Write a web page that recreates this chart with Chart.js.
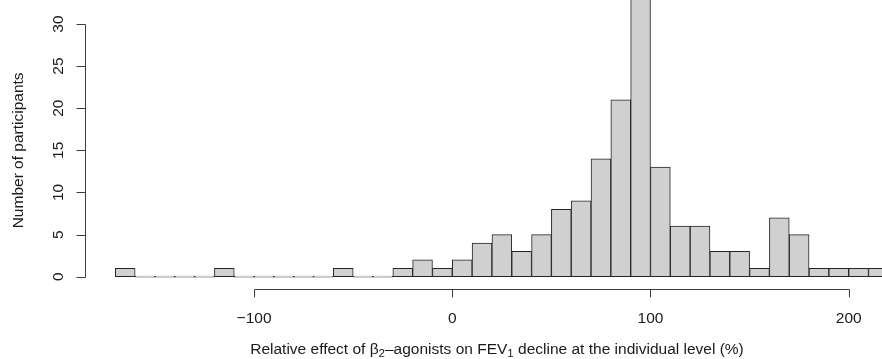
<!DOCTYPE html>
<html>
<head>
<meta charset="utf-8">
<script src="https://cdn.jsdelivr.net/npm/chart.js@4.4.1/dist/chart.umd.min.js"></script>
<style>
  html, body { margin: 0; padding: 0; background: #fff; }
  #wrap { width: 882px; height: 359px; position: relative; }
</style>
</head>
<body>
<div id="wrap"><canvas id="hist"></canvas></div>
<script>
// histogram bins (left edge, width 10) and participant counts
const BIN_STARTS = [
  -170, -160, -150, -140, -130, -120, -110, -100, -90, -80,
  -70, -60, -50, -40, -30, -20, -10, 0, 10, 20,
  30, 40, 50, 60, 70, 80, 90, 100, 110, 120,
  130, 140, 150, 160, 170, 180, 190, 200, 210,
];
const COUNTS = [
  1, 0, 0, 0, 0, 1, 0, 0, 0, 0,
  0, 1, 0, 0, 1, 2, 1, 2, 4, 5,
  3, 5, 8, 9, 14, 21, 34, 13, 6, 6,
  3, 3, 1, 7, 5, 1, 1, 1, 1,
];
const BIN_WIDTH = 10;
const X_TICKS = [-100, 0, 100, 200];
const Y_TICKS = [0, 5, 10, 15, 20, 25, 30];
const Y_TITLE = "Number of participants";
// x title pieces: [text, isSubscript]
const X_TITLE = [
  ["Relative effect of ", false],
  ["\u03b2", false],
  ["2", true],
  ["\u2013agonists on FEV", false],
  ["1", true],
  [" decline at the individual level (%)", false],
];

const FONT = '"Liberation Sans", Arial, Helvetica, sans-serif';
const SIZE = 15.5;
const INK = "#1a1a1a";
const AXIS = "#3c3c3c";

const points = BIN_STARTS.map((start, i) => ({ x: start + BIN_WIDTH / 2, y: COUNTS[i] }));

const rAxes = {
  id: "rAxes",
  afterDraw(chart) {
    const ctx = chart.ctx;
    const xs = chart.scales.x;
    const ys = chart.scales.y;
    const area = chart.chartArea;
    ctx.save();
    ctx.strokeStyle = AXIS;
    ctx.lineWidth = 1;
    ctx.fillStyle = INK;

    // y axis
    const ax = Math.round(area.left) + 0.5;
    const y0 = ys.getPixelForValue(Y_TICKS[0]);
    const y1 = ys.getPixelForValue(Y_TICKS[Y_TICKS.length - 1]);
    ctx.beginPath();
    ctx.moveTo(ax, Math.round(y0) + 0.5);
    ctx.lineTo(ax, Math.round(y1) + 0.5);
    Y_TICKS.forEach((v) => {
      const py = Math.round(ys.getPixelForValue(v)) + 0.5;
      ctx.moveTo(ax, py);
      ctx.lineTo(ax - 9, py);
    });
    ctx.stroke();

    ctx.font = `${SIZE}px ${FONT}`;
    ctx.textAlign = "center";
    ctx.textBaseline = "alphabetic";
    Y_TICKS.forEach((v) => {
      ctx.save();
      ctx.translate(ax - 23, ys.getPixelForValue(v));
      ctx.rotate(-Math.PI / 2);
      ctx.fillText(String(v), 0, 0);
      ctx.restore();
    });
    ctx.save();
    ctx.translate(23, (y0 + y1) / 2);
    ctx.rotate(-Math.PI / 2);
    ctx.fillText(Y_TITLE, 0, 0);
    ctx.restore();

    // x axis
    const ay = Math.round(area.bottom) + 0.5;
    ctx.beginPath();
    ctx.moveTo(Math.round(xs.getPixelForValue(X_TICKS[0])) + 0.5, ay);
    ctx.lineTo(Math.round(xs.getPixelForValue(X_TICKS[X_TICKS.length - 1])) + 0.5, ay);
    X_TICKS.forEach((v) => {
      const px = Math.round(xs.getPixelForValue(v)) + 0.5;
      ctx.moveTo(px, ay);
      ctx.lineTo(px, ay + 8);
    });
    ctx.stroke();
    X_TICKS.forEach((v) => {
      const label = v < 0 ? `\u2212${Math.abs(v)}` : String(v);
      ctx.fillText(label, xs.getPixelForValue(v), ay + 33);
    });

    // x title with subscripts
    const normal = `${SIZE}px ${FONT}`;
    const small = `11.5px ${FONT}`;
    let total = 0;
    X_TITLE.forEach(([text, sub]) => {
      ctx.font = sub ? small : normal;
      total += ctx.measureText(text).width;
    });
    let cx = 497 - total / 2;
    const base = ay + 64;
    ctx.textAlign = "left";
    X_TITLE.forEach(([text, sub]) => {
      ctx.font = sub ? small : normal;
      ctx.fillText(text, cx, sub ? base + 3 : base);
      cx += ctx.measureText(text).width;
    });
    ctx.restore();
  },
};

new Chart(document.getElementById("hist"), {
  type: "bar",
  data: {
    datasets: [{
      data: points,
      backgroundColor: "#d0d0d0",
      borderColor: "#262626",
      borderWidth: 1,
      borderSkipped: false,
      minBarLength: 1,
      barPercentage: 1,
      categoryPercentage: 1,
    }],
  },
  options: {
    responsive: true,
    maintainAspectRatio: false,
    animation: false,
    events: [],
    layout: { padding: { left: 85, right: 0, top: 0, bottom: 70 } },
    plugins: { legend: { display: false }, tooltip: { enabled: false } },
    scales: {
      x: { type: "linear", display: false, offset: false, min: -185.3, max: 216.8 },
      y: { type: "linear", display: false, min: -1.46, max: 32.85 },
    },
  },
  plugins: [rAxes],
});
</script>
</body>
</html>
